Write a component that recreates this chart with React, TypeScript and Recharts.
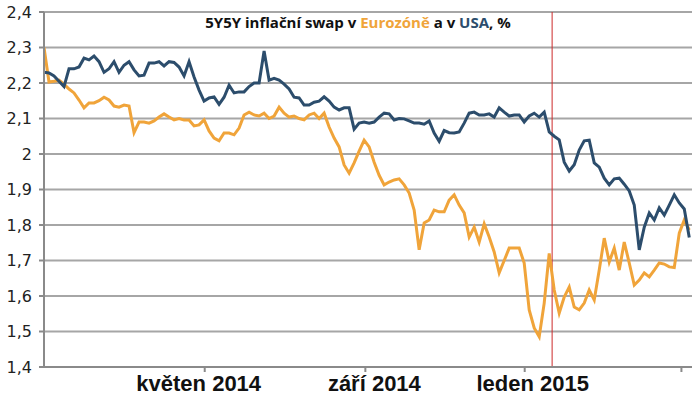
import { CartesianGrid, Line, LineChart, ReferenceLine, XAxis, YAxis } from "recharts";

// samples are taken every ~3.83 days, starting a few days before 1 Jan 2014 (day 0)
const START_DAY = -3.06;
const STEP_DAYS = 3.83;

const usa = [
  2.23, 2.228, 2.22, 2.205, 2.19, 2.24, 2.24, 2.245, 2.27, 2.265,
  2.276, 2.26, 2.23, 2.24, 2.26, 2.23, 2.25, 2.26, 2.237, 2.22,
  2.222, 2.256, 2.256, 2.26, 2.248, 2.26, 2.258, 2.245, 2.22, 2.26,
  2.217, 2.18, 2.149, 2.158, 2.161, 2.14, 2.16, 2.194, 2.172, 2.175,
  2.175, 2.19, 2.2, 2.2, 2.29, 2.208, 2.213, 2.208, 2.197, 2.183,
  2.16, 2.158, 2.138, 2.138, 2.146, 2.149, 2.161, 2.149, 2.132, 2.124,
  2.13, 2.13, 2.07, 2.087, 2.09, 2.087, 2.09, 2.104, 2.115, 2.113,
  2.096, 2.1, 2.099, 2.093, 2.087, 2.087, 2.084, 2.093, 2.059, 2.036,
  2.066, 2.06, 2.059, 2.062, 2.087, 2.115, 2.118, 2.11, 2.11, 2.113,
  2.104, 2.13, 2.118, 2.107, 2.11, 2.11, 2.09, 2.107, 2.115, 2.104,
  2.118, 2.062, 2.05, 2.04, 1.977, 1.952, 1.97, 2.011, 2.037, 2.039,
  1.975, 1.963, 1.932, 1.913, 1.93, 1.932, 1.915, 1.896, 1.856, 1.73,
  1.794, 1.834, 1.814, 1.848, 1.828, 1.856, 1.885, 1.862, 1.845, 1.765,
];

const eurozone = [
  2.3, 2.203, 2.205, 2.208, 2.197, 2.183, 2.172, 2.152, 2.13, 2.144,
  2.144, 2.15, 2.16, 2.152, 2.135, 2.132, 2.138, 2.135, 2.06, 2.09,
  2.09, 2.087, 2.093, 2.104, 2.113, 2.104, 2.096, 2.1, 2.096, 2.096,
  2.079, 2.082, 2.096, 2.065, 2.045, 2.037, 2.059, 2.059, 2.054, 2.073,
  2.11, 2.118, 2.11, 2.107, 2.115, 2.1, 2.107, 2.132, 2.115, 2.104,
  2.107, 2.1, 2.096, 2.11, 2.115, 2.1, 2.115, 2.076, 2.045, 2.02,
  1.969, 1.946, 1.975, 2.008, 2.039, 2.02, 1.977, 1.94, 1.913, 1.921,
  1.927, 1.93, 1.913, 1.89, 1.842, 1.73, 1.806, 1.814, 1.842, 1.837,
  1.837, 1.87, 1.885, 1.856, 1.834, 1.766, 1.794, 1.752, 1.803, 1.766,
  1.724, 1.665, 1.7, 1.735, 1.735, 1.735, 1.693, 1.561, 1.51, 1.485,
  1.58, 1.72, 1.617, 1.552, 1.597, 1.625, 1.569, 1.561, 1.58, 1.617,
  1.589, 1.673, 1.763, 1.696, 1.735, 1.673, 1.752, 1.693, 1.631, 1.645,
  1.665, 1.654, 1.673, 1.693, 1.69, 1.682, 1.68, 1.777, 1.814, 1.786,
];

// month ticks in days since 1 Jan 2014
const monthTicks = [120, 243, 365, 485];
const monthLabels = ["květen 2014", "září 2014", "leden 2015", ""];
const labelShift = [-6, 9, 8, 0];
const yTicks = [1.4, 1.5, 1.6, 1.7, 1.8, 1.9, 2, 2.1, 2.2, 2.3, 2.4];
const QE_DAY = 386; // 22 Jan 2015

const data = usa.map((v, i) => ({
  day: START_DAY + i * STEP_DAYS,
  usa: v,
  eurozone: eurozone[i],
}));

function MonthTick(props: any) {
  const { x, y, payload } = props;
  const i = monthTicks.indexOf(payload.value);
  return (
    <text
      x={x + (labelShift[i] || 0)}
      y={y}
      dy={17}
      textAnchor="middle"
      fontFamily="Liberation Sans, Arial, sans-serif"
      fontWeight={700}
      fontSize={22}
      fill="#111"
    >
      {monthLabels[i]}
    </text>
  );
}

export default function App() {
  return (
    <div style={{ position: "absolute", left: 0, top: 0, width: 699, height: 395, background: "#fff" }}>
      <div
        style={{
          position: "absolute",
          left: 0,
          width: 716,
          top: 12,
          textAlign: "center",
          fontFamily: "Open Sans, sans-serif",
          fontWeight: 700,
          fontSize: 15,
          color: "#111",
          zIndex: 2,
        }}
      >
        5Y5Y inflační swap v <span style={{ color: "#f0a43a" }}>Eurozóně</span> a v{" "}
        <span style={{ color: "#2c4d6c" }}>USA</span>, %
      </div>
      <LineChart width={699} height={395} data={data} margin={{ top: 12, right: 7, left: 0, bottom: 0 }}>
        <CartesianGrid vertical={false} stroke="#a6a6a6" strokeWidth={2} />
        <XAxis
          dataKey="day"
          type="number"
          domain={[START_DAY, 493.1]}
          ticks={monthTicks}
          tick={<MonthTick />}
          tickSize={5}
          height={28}
          stroke="#8a8a8a"
          strokeWidth={2}
          allowDataOverflow
        />
        <YAxis
          domain={[1.4, 2.4]}
          ticks={yTicks}
          width={44}
          tickSize={5}
          tickMargin={7}
          stroke="#8a8a8a"
          strokeWidth={2}
          interval={0}
          tick={{ fill: "#222", fontSize: 16, fontFamily: "DejaVu Sans, Verdana, sans-serif" }}
          tickFormatter={(v: number) => String(Number(v.toFixed(1))).replace(".", ",")}
        />
        <ReferenceLine x={QE_DAY} stroke="#cc2a2a" strokeWidth={1} />
        <Line
          type="linear"
          dataKey="eurozone"
          stroke="#f0a43a"
          strokeWidth={3}
          dot={false}
          isAnimationActive={false}
        />
        <Line
          type="linear"
          dataKey="usa"
          stroke="#2c4d6c"
          strokeWidth={3}
          dot={false}
          isAnimationActive={false}
        />
      </LineChart>
    </div>
  );
}
